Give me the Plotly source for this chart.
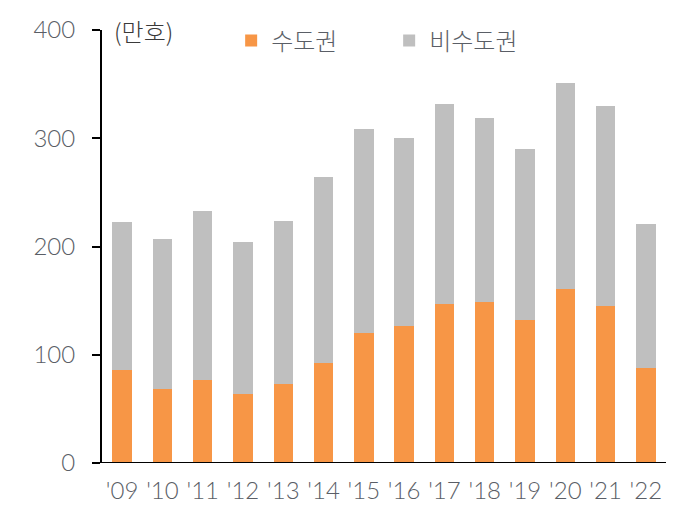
import plotly.graph_objects as go

years = ["'09", "'10", "'11", "'12", "'13", "'14", "'15", "'16", "'17", "'18", "'19", "'20", "'21", "'22"]
capital = [85.5, 68.6, 77, 64, 73, 92, 120, 127, 147, 149, 132, 161, 145, 88]
totals = [223, 207, 233, 204, 224, 264, 309, 300, 332, 319, 290, 351, 330, 221]
non_capital = [round(t - c, 1) for t, c in zip(totals, capital)]

FONT = "Lato, Noto Sans CJK KR"
KFONT = "Noto Sans CJK KR"
TXT = "#5a5e66"

fig = go.Figure()
fig.add_trace(go.Bar(x=years, y=capital, name="수도권", marker=dict(color="#F79646", line_width=0)))
fig.add_trace(go.Bar(x=years, y=non_capital, name="비수도권", marker=dict(color="#BFBFBF", line_width=0)))

fig.update_layout(
    barmode="stack",
    bargap=0.52,
    width=696, height=531,
    margin=dict(l=102, r=30, t=30, b=68),
    paper_bgcolor="white", plot_bgcolor="white",
    font=dict(family=FONT, size=22, color=TXT, weight=300),
    showlegend=True,
    legend=dict(orientation="h", x=0.229, y=0.975, xanchor="left", yanchor="middle",
                entrywidth=113, entrywidthmode="pixels", traceorder="normal",
                font=dict(size=24, color=TXT, family=KFONT, weight=300), bgcolor="rgba(0,0,0,0)"),
)
fig.update_xaxes(showline=False, ticks="", showgrid=False, ticklabelstandoff=11,
                 tickfont=dict(size=24, color=TXT, family=FONT, weight=300))
fig.update_yaxes(range=[0, 400], tickvals=[0, 100, 200, 300, 400], showgrid=False,
                 showline=True, linecolor="black", linewidth=2,
                 ticks="outside", ticklen=8, tickwidth=2, tickcolor="black",
                 ticklabelstandoff=12, zeroline=False,
                 tickfont=dict(size=24, color=TXT, family=FONT, weight=300))
fig.add_shape(type="line", xref="paper", yref="y", x0=-0.0142, x1=1, y0=0, y1=0,
              line=dict(color="black", width=2))
fig.add_annotation(text="(만호)", xref="paper", yref="paper", x=0.018, y=1.0,
                   xanchor="left", yanchor="middle", showarrow=False,
                   font=dict(size=24, color="#3a3a3a", family=KFONT, weight=300))
fig.write_html("out.html")
